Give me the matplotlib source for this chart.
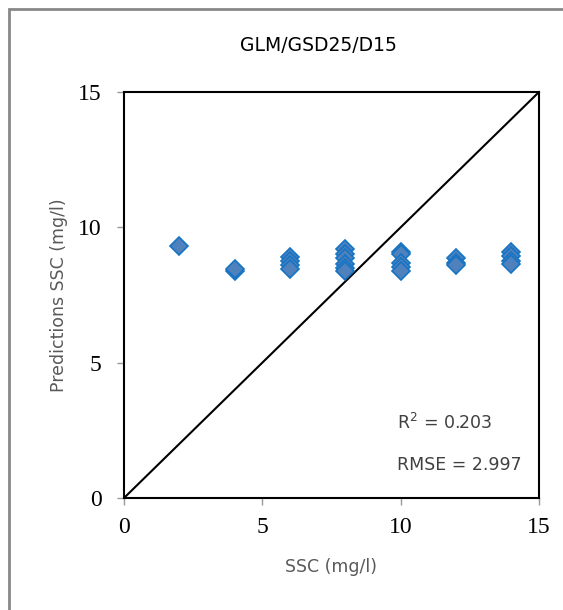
import matplotlib
matplotlib.use("Agg")
from matplotlib import pyplot as plt
from matplotlib.patches import Rectangle

# observed SSC (mg/l) and model predictions
ssc_obs = [2, 4, 4,
           6, 6, 6, 6,
           8, 8, 8, 8, 8, 8,
           10, 10, 10, 10, 10,
           12, 12, 12,
           14, 14, 14, 14]
ssc_pred = [9.3, 8.4, 8.45,
            8.9, 8.75, 8.6, 8.45,
            9.2, 9.0, 8.85, 8.65, 8.5, 8.4,
            9.1, 9.0, 8.7, 8.55, 8.4,
            8.85, 8.7, 8.6,
            9.1, 8.95, 8.75, 8.65]
ticks = [0, 5, 10, 15]
r2 = 0.203
rmse = 2.997

fig = plt.figure(figsize=(5.63, 6.10), dpi=100)
ax = fig.add_axes([0.2202, 0.1836, 0.7372, 0.6656])

# gray frame around the chart area
fig.patches.append(Rectangle((8.5 / 563, -0.05), 1.2, 1 - 8.5 / 610 + 0.05,
                             transform=fig.transFigure, fill=False,
                             edgecolor="#888888", linewidth=2))

ax.plot([0, 15], [0, 15], color="black", linewidth=1.5, zorder=2)
ax.plot(ssc_obs, ssc_pred, linestyle="none", marker="D", markersize=9.5,
        markerfacecolor="#4F81BD", markeredgecolor="#1574C4",
        markeredgewidth=1.2, zorder=3)

ax.set_xlim(0, 15)
ax.set_ylim(0, 15)
ax.set_xticks(ticks)
ax.set_yticks(ticks)
for lab in ax.get_xticklabels() + ax.get_yticklabels():
    lab.set_fontfamily("Liberation Serif")
    lab.set_fontsize(17)
ax.tick_params(direction="out", length=5, width=1, color="#999999")
ax.tick_params(axis="y", pad=11)
ax.tick_params(axis="x", pad=9)
for sp in ax.spines.values():
    sp.set_color("black")
    sp.set_linewidth(1.5)

ax.set_xlabel("SSC (mg/l)", fontsize=12.5, color="#595959", labelpad=14)
ax.set_ylabel("Predictions SSC (mg/l)", fontsize=12.5, color="#595959", labelpad=7)
fig.text(0.565, 0.925, "GLM/GSD25/D15", fontsize=13.5, ha="center", va="center")

ax.text(0.657, 0.185, "R$^2$ = %.3f" % r2, transform=ax.transAxes,
        fontsize=12.5, color="#404040", va="center")
ax.text(0.657, 0.082, "RMSE = %.3f" % rmse, transform=ax.transAxes,
        fontsize=12.5, color="#404040", va="center")

fig.savefig("out.png", dpi=100)
